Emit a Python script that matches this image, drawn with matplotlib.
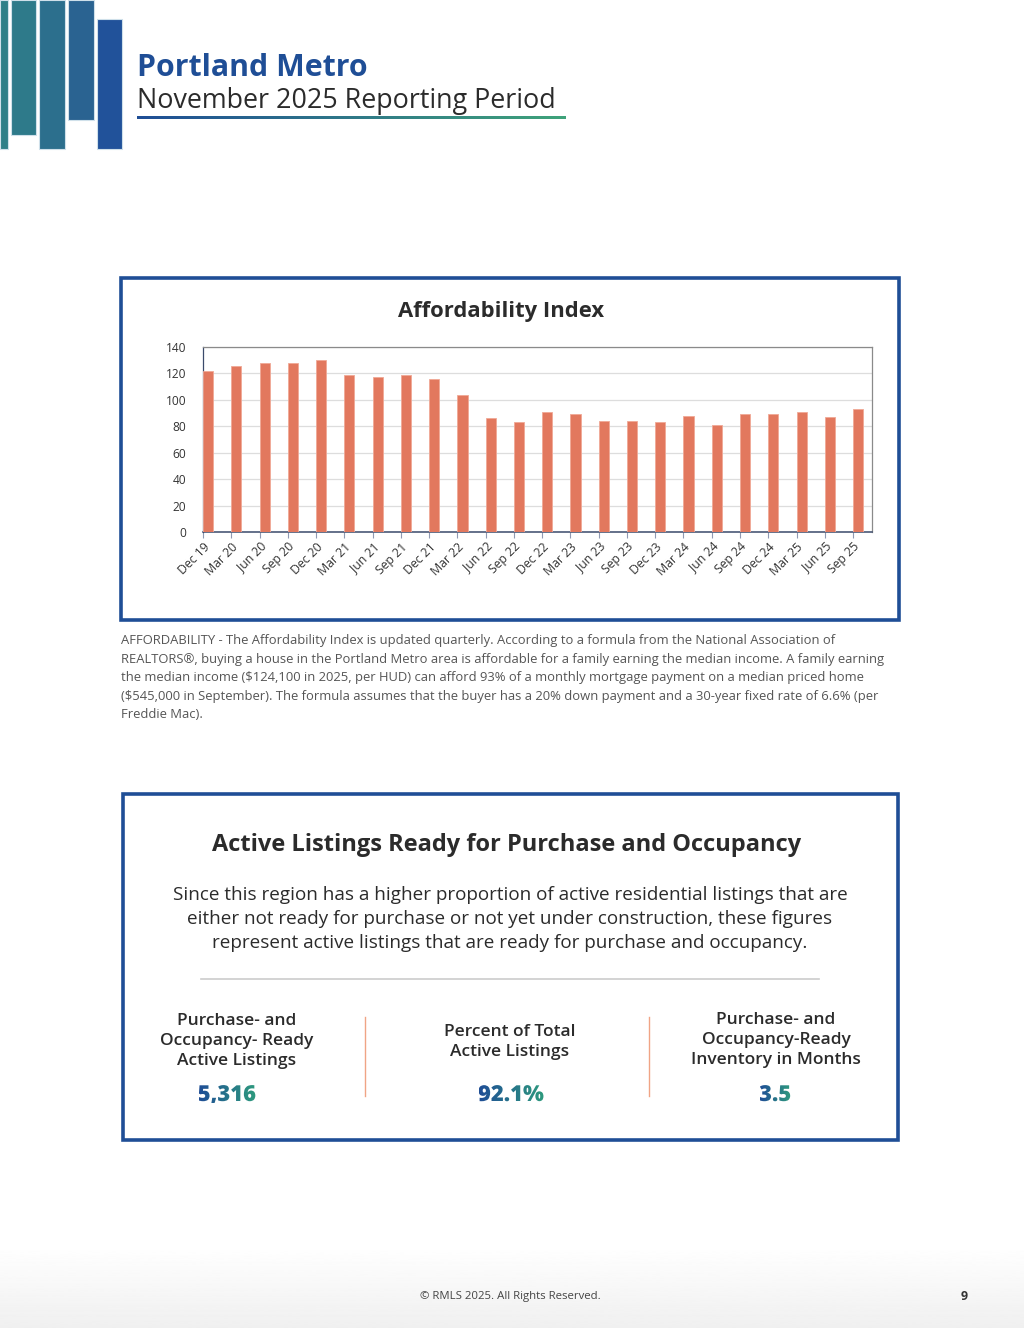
import numpy as np
import matplotlib
matplotlib.use("Agg")
import matplotlib.pyplot as plt
from matplotlib.patches import Rectangle, PathPatch
from matplotlib.textpath import TextPath
from matplotlib.font_manager import FontProperties
from matplotlib.transforms import Affine2D
from matplotlib.colors import LinearSegmentedColormap

plt.rcParams["font.family"] = ["Open Sans", "DejaVu Sans"]

# --- data ---
quarters = ["Dec 19", "Mar 20", "Jun 20", "Sep 20", "Dec 20", "Mar 21", "Jun 21", "Sep 21",
            "Dec 21", "Mar 22", "Jun 22", "Sep 22", "Dec 22", "Mar 23", "Jun 23", "Sep 23",
            "Dec 23", "Mar 24", "Jun 24", "Sep 24", "Dec 24", "Mar 25", "Jun 25", "Sep 25"]
affordability = [122, 126, 128, 128, 130, 119, 117, 119, 116, 104, 86, 83,
                 91, 89, 84, 84, 83, 88, 81, 89, 89, 91, 87, 93]
yticks = [0, 20, 40, 60, 80, 100, 120, 140]

stat_labels = ["Purchase- and\nOccupancy- Ready\nActive Listings",
               "Percent of Total\nActive Listings",
               "Purchase- and\nOccupancy-Ready\nInventory in Months"]
stat_values = ["5,316", "92.1%", "3.5"]

caption = ("AFFORDABILITY - The Affordability Index is updated quarterly. According to a formula from the National Association of\n"
           "REALTORS\u00ae, buying a house in the Portland Metro area is affordable for a family earning the median income. A family earning\n"
           "the median income ($124,100 in 2025, per HUD) can afford 93% of a monthly mortgage payment on a median priced home\n"
           "($545,000 in September). The formula assumes that the buyer has a 20% down payment and a 30-year fixed rate of 6.6% (per\n"
           "Freddie Mac).")
intro = ("Since this region has a higher proportion of active residential listings that are\n"
         "either not ready for purchase or not yet under construction, these figures\n"
         "represent active listings that are ready for purchase and occupancy.")

BLUE = "#1f4e96"
GREEN = "#3fa37a"
BAR = "#e2785e"

W, H = 1024, 1328
fig = plt.figure(figsize=(W / 100, H / 100), dpi=100)
bg = fig.add_axes([0, 0, 1, 1])
bg.set_xlim(0, W)
bg.set_ylim(H, 0)
bg.axis("off")

# footer shading
grad = np.linspace(1, 0.94, 100).reshape(-1, 1)
bg.imshow(grad, extent=(0, W, H, 1245), cmap="gray", vmin=0, vmax=1, aspect="auto", zorder=0)

# header decoration bars
deco = [(0, 7.6, 0, 149, "#2f7f88"), (10.6, 25.5, 0, 135, "#2e7a8a"),
        (39, 25.5, 0, 149, "#2c6f8d"), (68, 25.5, 0, 120, "#2a6391"),
        (96.5, 25.5, 19, 149, "#21529a")]
for x, w, y0, y1, c in deco:
    bg.add_patch(Rectangle((x, y0), w, y1 - y0, facecolor=c, edgecolor="#cfe0ea", lw=0.8, zorder=2))

bg.text(137, 76, "Portland Metro", fontsize=21.8, fontweight="bold", color=BLUE, va="baseline", ha="left")
bg.text(137, 108, "November 2025 Reporting Period", fontsize=19.4, color="#2b2b2b", va="baseline", ha="left")
# gradient underline
ul = np.linspace(0, 1, 256).reshape(1, -1)
line_cmap = LinearSegmentedColormap.from_list("line", [BLUE, GREEN])
bg.imshow(ul, extent=(137, 566, 119, 116), cmap=line_cmap, aspect="auto", zorder=2)

# chart box
bg.add_patch(Rectangle((121, 278), 778, 342, fill=False, edgecolor=BLUE, lw=2.6, zorder=3))
bg.text(501, 311, "Affordability Index", fontsize=15.8, fontweight="bold", color="#2b2b2b",
        ha="center", va="center")

ax = fig.add_axes([203 / W, 1 - 532 / H, 669 / W, 185 / H])
x = np.arange(len(quarters))
ax.bar(x, affordability, width=0.36, align="edge", color=BAR, edgecolor="#f0a896", linewidth=0.6, zorder=3)
ax.set_xlim(0, len(quarters) - 1 + 0.67)
ax.set_ylim(0, 140)
ax.set_yticks(yticks)
ax.set_xticks(x)
ax.set_xticklabels(quarters, rotation=45, ha="right", rotation_mode="anchor", fontsize=8.8, color="#333333")
ax.tick_params(axis="y", length=0, labelsize=8.6, labelcolor="#333333", pad=12)
ax.tick_params(axis="x", length=4, color="#8f99b3", pad=2)
ax.grid(axis="y", color="#dddddd", lw=0.9, zorder=0)
for s in ["top", "right"]:
    ax.spines[s].set_color("#8a8a8a")
    ax.spines[s].set_linewidth(0.9)
ax.spines["left"].set_color("#3b4a6b")
ax.spines["bottom"].set_color("#3b4a6b")
ax.spines["left"].set_linewidth(0.9)
ax.spines["bottom"].set_linewidth(1.1)

bg.text(121, 634, caption, fontsize=9.4, color="#555555", ha="left", va="top", linespacing=1.56)

# second box
bg.add_patch(Rectangle((123, 794), 775, 346, fill=False, edgecolor=BLUE, lw=2.6, zorder=3))
bg.text(507, 845, "Active Listings Ready for Purchase and Occupancy", fontsize=17.0, fontweight="bold",
        color="#2b2b2b", ha="center", va="center")
bg.text(510, 919, intro, fontsize=13.6, color="#2b2b2b", ha="center", va="center", linespacing=1.4)
bg.plot([201, 819], [979, 979], color="#cccccc", lw=1.2)

label_centers = [237, 510, 776]
label_y = [1041, 1042, 1040]
for cx, ly, lab in zip(label_centers, label_y, stat_labels):
    bg.text(cx, ly, lab, fontsize=12.5, fontweight="semibold", color="#2b2b2b", ha="center", va="center",
            linespacing=1.3)
for dx in [365, 649]:
    bg.plot([dx, dx], [1017, 1096], color="#f0a485", lw=1.0)

# gradient-filled numbers
value_centers = [227, 511, 775]
fp = FontProperties(family="Open Sans", weight="heavy", size=22)
val_cmap = LinearSegmentedColormap.from_list("val", ["#1f4e96", "#2e9a7e"])
for cx, val in zip(value_centers, stat_values):
    tp = TextPath((0, 0), val, prop=fp)
    ext = tp.get_extents()
    tx = cx - (ext.x0 + ext.x1) / 2
    ty = 1101
    tr = Affine2D().scale(1, -1).translate(tx, ty) + bg.transData
    patch = PathPatch(tp, transform=tr, facecolor="none", edgecolor="none")
    bg.add_patch(patch)
    im = bg.imshow(ul, extent=(tx + ext.x0, tx + ext.x1, ty + 2, ty - ext.y1 - 2),
                   cmap=val_cmap, aspect="auto", zorder=4)
    im.set_clip_path(patch)

bg.set_xlim(0, W)
bg.set_ylim(H, 0)

bg.text(510, 1297, "\u00a9 RMLS 2025. All Rights Reserved.", fontsize=8.2, color="#444444",
        ha="center", va="center")
bg.text(964, 1296, "9", fontsize=9, fontweight="bold", color="#333333", ha="center", va="center")

fig.savefig("out.png", dpi=100)
